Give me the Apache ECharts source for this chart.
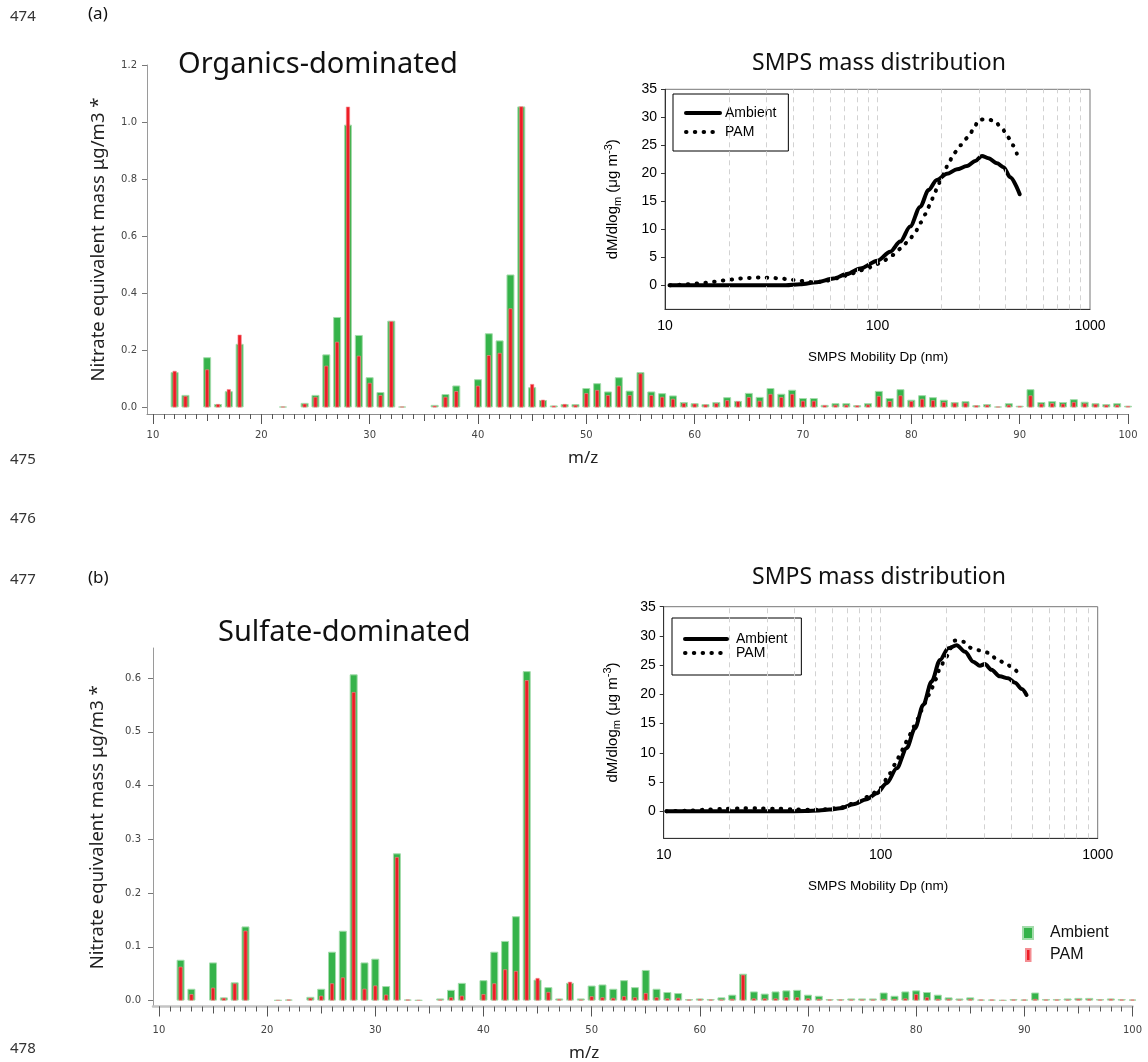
<!DOCTYPE html>
<html>
<head>
<meta charset="utf-8">
<script src="https://cdn.jsdelivr.net/npm/echarts@6/dist/echarts.min.js"></script>
<style>
  html, body { margin: 0; padding: 0; background: #ffffff; }
  #chart { width: 1148px; height: 1062px; }
</style>
</head>
<body>
<div id="chart"></div>
<script>
// m/z channels shown in both spectra
const mz = [12,13,14,15,16,17,18,19,20,21,22,23,24,25,26,27,28,29,30,31,32,33,34,35,36,37,38,39,40,41,
  42,43,44,45,46,47,48,49,50,51,52,53,54,55,56,57,58,59,60,61,62,63,64,65,66,67,68,69,70,71,
  72,73,74,75,76,77,78,79,80,81,82,83,84,85,86,87,88,89,90,91,92,93,94,95,96,97,98,99,100];

// (a) organics-dominated spectrum, nitrate-equivalent mass (ug/m3)
const ambientA = [0.124,0.044,0,0.176,0.012,0.057,0.223,0,0,0,
  0.003,0,0.016,0.044,0.186,0.317,0.991,0.254,0.106,0.054,
  0.304,0.003,0,0,0.009,0.047,0.077,0,0.099,0.260,
  0.235,0.466,1.055,0.071,0.026,0.007,0.012,0.012,0.068,0.085,
  0.056,0.106,0.059,0.124,0.056,0.050,0.042,0.019,0.015,0.012,
  0.019,0.036,0.023,0.051,0.037,0.068,0.048,0.062,0.033,0.033,
  0.009,0.015,0.015,0.008,0.015,0.058,0.033,0.064,0.027,0.043,
  0.036,0.027,0.019,0.022,0.008,0.012,0.003,0.015,0.006,0.064,
  0.019,0.022,0.019,0.029,0.020,0.015,0.012,0.015,0.006];
const pamA = [0.128,0.040,0,0.133,0.012,0.064,0.255,0,0,0,
  0.003,0,0.013,0.037,0.146,0.230,1.054,0.181,0.086,0.043,
  0.302,0.003,0,0,0.006,0.037,0.057,0,0.076,0.183,
  0.191,0.347,1.055,0.082,0.027,0.006,0.012,0.009,0.050,0.061,
  0.043,0.076,0.043,0.119,0.043,0.037,0.030,0.015,0.013,0.010,
  0.015,0.025,0.022,0.036,0.023,0.047,0.036,0.047,0.023,0.023,
  0.008,0.009,0.009,0.007,0.010,0.040,0.022,0.042,0.022,0.030,
  0.025,0.019,0.016,0.016,0.007,0.009,0.003,0.009,0.005,0.042,
  0.013,0.015,0.013,0.019,0.014,0.012,0.009,0.009,0.005];

// (b) sulfate-dominated spectrum
const ambientB = [0.076,0.022,0,0.071,0.006,0.034,0.138,0,0,0.001,
  0.002,0,0.007,0.022,0.091,0.130,0.607,0.071,0.078,0.027,
  0.274,0.002,0.001,0,0.004,0.020,0.033,0,0.038,0.091,
  0.111,0.157,0.613,0.039,0.025,0.004,0.033,0.004,0.028,0.030,
  0.022,0.038,0.025,0.057,0.022,0.016,0.014,0.003,0.004,0.003,
  0.006,0.011,0.050,0.017,0.013,0.017,0.019,0.020,0.011,0.009,
  0.003,0.003,0.004,0.004,0.004,0.015,0.009,0.017,0.019,0.016,
  0.011,0.006,0.004,0.006,0.002,0.002,0.001,0.003,0.002,0.015,
  0.003,0.003,0.004,0.005,0.005,0.003,0.004,0.003,0.002];
const pamB = [0.063,0.012,0,0.024,0.005,0.032,0.130,0,0,0.001,
  0.002,0,0.005,0.009,0.032,0.043,0.574,0.022,0.028,0.011,
  0.267,0.002,0.001,0,0.002,0.006,0.009,0,0.012,0.032,
  0.058,0.055,0.596,0.042,0.016,0.003,0.035,0.002,0.008,0.006,
  0.005,0.008,0.006,0.014,0.006,0.004,0.005,0.002,0.003,0.002,
  0.002,0.003,0.048,0.004,0.004,0.004,0.006,0.006,0.004,0.003,
  0.002,0.002,0.002,0.002,0.002,0.003,0.003,0.004,0.012,0.006,
  0.003,0.003,0.002,0.003,0.002,0.002,0.001,0.002,0.002,0.003,
  0.002,0.002,0.002,0.003,0.003,0.002,0.003,0.002,0.002];

// SMPS mass distributions, mobility diameter (nm) vs dM/dlogDm (ug m-3)
const dpAmbientA = [10.5,15,20,30,37,43.3,51.9,62.1,71.8,82.9,100,114.8,127.9,142.5,158.7,173.8,190,212,236.7,263.6,288.7,310,332.7,365,392,421,467];
const ambientSmpsA = [0,0,0,0,0,0.18,0.54,1.2,2.0,3.0,4.4,6.0,7.8,10.5,14.0,17.0,18.8,19.9,20.7,21.3,22.2,23.1,22.7,21.8,21.1,19.3,16.25];
const dpPamA = [10.6,11.5,12.5,13.9,15.3,16.7,18.3,20.2,22.1,24.2,26.6,29.2,32.2,35.3,38.9,42.8,46.8,50.9,57,66,
  74.3,81.4,89.2,97.5,106.7,118.2,129.3,141,151,159.4,168.3,175.7,183.6,191,199.4,206.8,217,229,245.9,266.4,
  284.5,298,323.6,354,386,410,434,452.6];
const pamSmpsA = [0,0.06,0.18,0.3,0.42,0.6,0.83,1.0,1.2,1.3,1.37,1.37,1.3,1.2,1.0,0.83,0.6,0.5,0.8,1.3,
  1.96,2.55,3.03,3.63,4.4,5.4,6.6,8.1,9.6,11.2,12.7,14.2,15.8,17.4,19.0,20.4,22.0,23.6,25.0,26.4,
  28.0,29.5,29.7,29.4,28.0,26.5,25.0,23.5];

const dpAmbientB = [10.3,15,25,35,45,52,58,64.9,74.8,86.2,95.8,106.6,118.5,131.7,143.9,157,171.7,187.6,204.9,224,244.7,267,286.7,302,324,354,387,416,447,470];
const ambientSmpsB = [0,0,0,0,0.05,0.15,0.3,0.51,1.2,2.05,3.08,4.8,7.36,10.8,14.2,18.2,22.2,25.9,27.9,28.4,27.3,25.6,24.9,25.2,24.2,23.1,22.75,22.0,20.9,19.9];
const dpPamB = [10.3,12.8,15.4,18.6,22.4,26.9,32.5,39.2,47.1,56.8,66,76,88,100,110.4,116.4,122.7,128.5,134,142.4,
  149,156,162.8,170,179.5,187.6,199.8,219.8,240.3,262.6,288.7,315.6,345,376.9,412,442];
const pamSmpsB = [0,0.1,0.25,0.4,0.5,0.5,0.45,0.35,0.25,0.35,0.7,1.4,2.5,4.0,6.5,8.0,9.6,11.2,12.7,14.5,
  15.9,17.6,19.0,20.7,22.6,24.5,26.4,29.2,29.0,27.9,27.5,27.1,25.9,25.3,24.3,22.9];

// tick positions and labels
const mzMajor = [10,20,30,40,50,60,70,80,90,100];
const mzMid = [15,25,35,45,55,65,75,85,95];
const mzMinor = [];
for (let m = 10; m <= 100; m++) mzMinor.push(m);
const massTicksA = [0,0.2,0.4,0.6,0.8,1.0,1.2];
const massTicksB = [0,0.1,0.2,0.3,0.4,0.5,0.6];
const smpsTicks = [0,5,10,15,20,25,30,35];
const dpGrid = [20,30,40,50,60,70,80,90,100,200,300,400,500,600,700,800,900];

const GREEN = '#35b34a';
const RED = '#ee1c25';
const TICK_FONT = 'DejaVu Sans';
const TEXT_FONT = 'Noto Sans';
const ARIAL = 'Liberation Sans';

const pairs = (xs, ys) => xs.map((x, i) => [x, ys[i]]);
const barPairs = (vals) => mz.map((m, i) => [m, vals[i]]).filter(p => p[1] > 0);

function mzAxes(gridIndex, labelMargin, lineStyle) {
  const base = {
    gridIndex, type: 'value', min: 9.45, max: 100, position: 'bottom',
    splitLine: { show: false },
    axisLine: { show: false, onZero: false },
    axisLabel: { show: false },
    axisTick: { show: true }
  };
  return [
    Object.assign({}, base, {
      axisLine: { show: true, onZero: false, lineStyle },
      axisTick: { show: true, customValues: mzMajor, length: 10, lineStyle: { color: '#555', width: 1 } },
      axisLabel: { show: true, customValues: mzMajor, margin: labelMargin, fontFamily: TICK_FONT, fontSize: 10, color: '#444' }
    }),
    Object.assign({}, base, {
      axisTick: { show: true, customValues: mzMinor, length: 5, lineStyle: { color: '#555', width: 1 } }
    }),
    Object.assign({}, base, {
      axisTick: { show: true, customValues: mzMid, length: 7, lineStyle: { color: '#555', width: 1 } }
    })
  ];
}

function massAxis(gridIndex, min, max, ticks, nameGap, labelMargin) {
  return {
    gridIndex, type: 'value', min, max,
    name: 'Nitrate equivalent mass μg/m3 *',
    nameLocation: 'middle', nameGap,
    nameTextStyle: { fontFamily: TEXT_FONT, fontSize: 18.5, color: '#222' },
    splitLine: { show: false },
    axisLine: { show: true, onZero: false, lineStyle: { color: '#9a9a9a', width: 1 } },
    axisTick: { show: true, customValues: ticks, length: 5, lineStyle: { color: '#777' } },
    axisLabel: { customValues: ticks, margin: labelMargin, formatter: v => v.toFixed(1),
      fontFamily: TICK_FONT, fontSize: 10, color: '#444' }
  };
}

function dpAxis(gridIndex) {
  return {
    gridIndex, type: 'log', logBase: 10, min: 10, max: 1000, position: 'bottom',
    splitLine: { show: false }, minorTick: { show: false },
    axisLine: { show: true, onZero: false, lineStyle: { color: '#333', width: 1 } },
    axisTick: { show: false },
    axisLabel: { margin: 10, fontFamily: ARIAL, fontSize: 14, color: '#000', formatter: v => String(v) }
  };
}

function smpsAxis(gridIndex, min, nameGap) {
  return {
    gridIndex, type: 'value', min, max: 35,
    name: '{a|dM/dlog}{s|m}{a| (μg m}{p|-3}{a|)}',
    nameLocation: 'middle', nameGap,
    nameTextStyle: {
      rich: {
        a: { fontFamily: ARIAL, fontSize: 15, color: '#000', lineHeight: 20, verticalAlign: 'middle' },
        s: { fontFamily: ARIAL, fontSize: 11, color: '#000', lineHeight: 20, verticalAlign: 'bottom' },
        p: { fontFamily: ARIAL, fontSize: 11, color: '#000', lineHeight: 20, verticalAlign: 'top' }
      }
    },
    splitLine: { show: false },
    axisLine: { show: true, onZero: false, lineStyle: { color: '#333', width: 1 } },
    axisTick: { show: true, customValues: smpsTicks, length: 4, lineStyle: { color: '#333' } },
    axisLabel: { customValues: smpsTicks, margin: 8, fontFamily: ARIAL, fontSize: 14, color: '#000' }
  };
}

function barSeries(name, xAxisIndex, yAxisIndex, vals, isPam) {
  return {
    name, type: 'bar', xAxisIndex, yAxisIndex,
    barWidth: isPam ? 4 : 8,
    clip: false, silent: true, animation: false,
    z: isPam ? 3 : 2,
    itemStyle: isPam
      ? { color: RED, borderColor: '#f48d92', borderWidth: 0.6 }
      : { color: GREEN, borderColor: '#a3dcab', borderWidth: 1 },
    data: barPairs(vals)
  };
}

const ambientLine = { color: '#000', width: 4, cap: 'round', join: 'round' };
const pamDots = { color: '#000', width: 4, type: [0.5, 8.3], cap: 'round' };

function smpsSeries(xAxisIndex, yAxisIndex, ambName, pamName, dpAmb, amb, dpPam, pam) {
  return [
    {
      type: 'line', xAxisIndex, yAxisIndex, data: [], silent: true, z: 1, animation: false,
      markLine: {
        silent: true, symbol: ['none', 'none'], animation: false,
        label: { show: false },
        lineStyle: { type: [5, 4], color: '#d2d2d2', width: 1 },
        data: dpGrid.map(v => ({ xAxis: v }))
      }
    },
    {
      name: ambName, type: 'line', xAxisIndex, yAxisIndex, symbol: 'none',
      smooth: 0.3, smoothMonotone: 'x', silent: true, animation: false, z: 3,
      lineStyle: ambientLine, itemStyle: { color: '#000' },
      data: pairs(dpAmb, amb)
    },
    {
      name: pamName, type: 'line', xAxisIndex, yAxisIndex, symbol: 'none',
      smooth: 0.3, smoothMonotone: 'x', silent: true, animation: false, z: 4,
      lineStyle: pamDots, itemStyle: { color: '#000' },
      data: pairs(dpPam, pam)
    }
  ];
}

const firstWord = n => n.split(' ')[0];
const hiddenMarker = { color: 'rgba(0,0,0,0)', borderColor: 'rgba(0,0,0,0)', borderWidth: 0, opacity: 0 };

function smpsLegend(left, top, names, itemWidth, itemGap, lineHeight, padding, textPad) {
  return {
    left, top, orient: 'vertical', selectedMode: false,
    data: [
      { name: names[0], itemStyle: hiddenMarker },
      { name: names[1], itemStyle: hiddenMarker, lineStyle: { type: [0.5, 8.3], cap: 'round', width: 4, color: '#000' } }
    ],
    formatter: firstWord,
    itemWidth, itemHeight: 10, itemGap, padding,
    borderColor: '#000', borderWidth: 1, borderRadius: 0,
    itemStyle: hiddenMarker,
    lineStyle: { width: 4 },
    textStyle: { fontFamily: ARIAL, fontSize: 14, color: '#000', lineHeight, padding: [0, 0, 0, textPad] }
  };
}

const txt = (text, left, top, size, family, color) => ({
  text, left, top, padding: 0,
  textStyle: { fontFamily: family || TEXT_FONT, fontSize: size, fontWeight: 'normal', color: color || '#111' }
});

const option = {
  backgroundColor: '#ffffff',
  animation: false,
  title: [
    txt('474', 10, 9, 15, TEXT_FONT, '#333'),
    txt('(a)', 88, 6, 17),
    txt('475', 10, 452, 15, TEXT_FONT, '#333'),
    txt('476', 10, 511, 15, TEXT_FONT, '#333'),
    txt('477', 10, 572, 15, TEXT_FONT, '#333'),
    txt('(b)', 88, 570, 17),
    txt('478', 10, 1041, 15, TEXT_FONT, '#333'),
    txt('Organics-dominated', 178, 50, 29),
    txt('Sulfate-dominated', 218, 618, 29),
    txt('SMPS mass distribution', 752, 52, 23),
    txt('SMPS mass distribution', 752, 566, 23),
    txt('SMPS Mobility Dp (nm)', 808, 350, 13.5, ARIAL, '#000'),
    txt('SMPS Mobility Dp (nm)', 808, 879, 13.5, ARIAL, '#000'),
    txt('m/z', 568, 450, 17, TEXT_FONT, '#222'),
    txt('m/z', 569, 1045, 17, TEXT_FONT, '#222')
  ],
  legend: [
    smpsLegend(673, 94, ['Ambient SMPS a', 'PAM SMPS a'], 34, 5, 14, [12, 12, 12, 11], 0),
    smpsLegend(672, 618, ['Ambient SMPS b', 'PAM SMPS b'], 42, 0, 12, [14, 14, 15, 11], 4),
    {
      left: 1022, top: 925, orient: 'vertical', selectedMode: false, padding: 0,
      data: ['Ambient'], icon: 'rect', itemWidth: 10, itemHeight: 12,
      textStyle: { fontFamily: ARIAL, fontSize: 16, color: '#111', lineHeight: 16, padding: [0, 0, 0, 12] }
    },
    {
      left: 1025, top: 947, orient: 'vertical', selectedMode: false, padding: 0,
      data: ['PAM'], icon: 'rect', itemWidth: 4.5, itemHeight: 12,
      textStyle: { fontFamily: ARIAL, fontSize: 16, color: '#111', lineHeight: 16, padding: [0, 0, 0, 14.5] }
    }
  ],
  grid: [
    { left: 147, top: 65, width: 981, height: 349 },
    { left: 153, top: 648, width: 979.5, height: 358.5 },
    { left: 665, top: 89.3, width: 425, height: 220, show: true, borderColor: '#777', borderWidth: 1, backgroundColor: 'transparent' },
    { left: 663.7, top: 606.7, width: 434, height: 231.6, show: true, borderColor: '#777', borderWidth: 1, backgroundColor: 'transparent' }
  ],
  xAxis: [
    ...mzAxes(0, 16, { color: '#8c8c8c', width: 1 }),
    ...mzAxes(1, 19, { color: '#c4c4c4', width: 2.5 }),
    dpAxis(2),
    dpAxis(3)
  ],
  yAxis: [
    massAxis(0, -0.023, 1.2, massTicksA, 39, 10),
    massAxis(1, -0.011, 0.656, massTicksB, 46, 12),
    smpsAxis(2, -4.29, 42),
    smpsAxis(3, -4.62, 41)
  ],
  series: [
    barSeries('Ambient MS a', 0, 0, ambientA, false),
    barSeries('PAM MS a', 1, 0, pamA, true),
    barSeries('Ambient', 3, 1, ambientB, false),
    barSeries('PAM', 4, 1, pamB, true),
    ...smpsSeries(6, 2, 'Ambient SMPS a', 'PAM SMPS a', dpAmbientA, ambientSmpsA, dpPamA, pamSmpsA),
    ...smpsSeries(7, 3, 'Ambient SMPS b', 'PAM SMPS b', dpAmbientB, ambientSmpsB, dpPamB, pamSmpsB)
  ]
};

const chart = echarts.init(document.getElementById('chart'), null, { renderer: 'canvas' });
chart.setOption(option);
</script>
</body>
</html>
